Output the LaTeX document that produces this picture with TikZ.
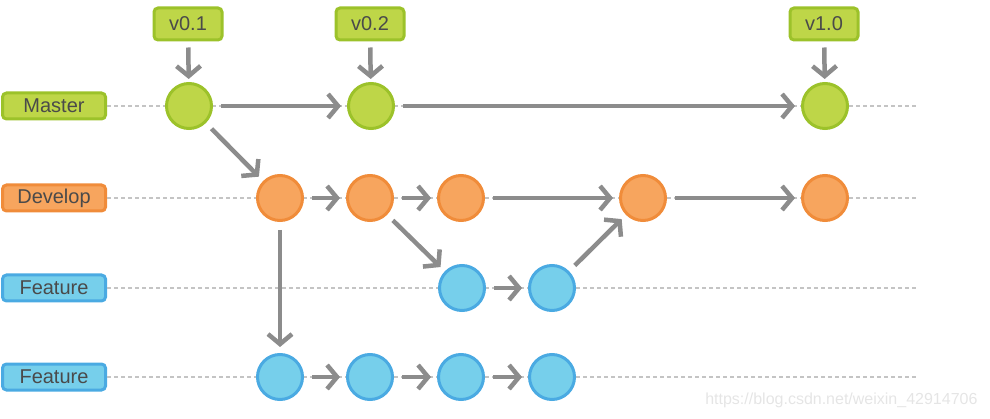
\documentclass[tikz,border=0pt]{standalone}
\usepackage{fontspec}
\setmainfont{Liberation Sans}
\usetikzlibrary{arrows.meta}
\definecolor{gfill}{HTML}{BED648}
\definecolor{gdraw}{HTML}{9CC22A}
\definecolor{ofill}{HTML}{F7A55E}
\definecolor{odraw}{HTML}{F08C3A}
\definecolor{bfill}{HTML}{76CFEB}
\definecolor{bdraw}{HTML}{4AAAE2}
\definecolor{arr}{HTML}{8C8C8C}
\definecolor{txt}{HTML}{4A4A4A}
\definecolor{dashc}{HTML}{C4C4C4}
\tikzset{
  commit/.style={circle, minimum size=45pt, inner sep=0pt, line width=3pt},
  gc/.style={commit, fill=gfill, draw=gdraw},
  oc/.style={commit, fill=ofill, draw=odraw},
  bc/.style={commit, fill=bfill, draw=bdraw},
  lab/.style={rounded corners=4pt, line width=3pt, minimum width=103pt, minimum height=26pt, inner sep=0pt, text=txt, font=\fontsize{20}{20}\selectfont},
  glab/.style={lab, fill=gfill, draw=gdraw},
  olab/.style={lab, fill=ofill, draw=odraw},
  blab/.style={lab, fill=bfill, draw=bdraw},
  tag/.style={lab, fill=gfill, draw=gdraw, minimum width=68pt, minimum height=32pt},
  flow/.style={draw=arr, line width=4.5pt, -{Straight Barb[length=10pt,width=24pt]}, shorten <=8pt, shorten >=6pt},
  guide/.style={draw=dashc, line width=1.5pt, dash pattern=on 4pt off 3pt},
}
\begin{document}
\begin{tikzpicture}[x=1pt, y=-1pt]
\useasboundingbox (0,0) rectangle (990,419);
% labels
\node[glab] (lm) at (54,106) {Master};
\node[olab] (ld) at (54,198) {Develop};
\node[blab] (lf1) at (54,288) {Feature};
\node[blab] (lf2) at (54,377) {Feature};
% guide lines
\coordinate (em) at (917,106);
\coordinate (ed) at (917,198);
\coordinate (ef1) at (917,288);
\coordinate (ef2) at (917,377);
\draw[guide] (lm.east) -- (em);
\draw[guide] (ld.east) -- (ed);
\draw[guide] (lf1.east) -- (ef1);
\draw[guide] (lf2.east) -- (ef2);
% tags
\node[tag] (t1) at (188,24) {v0.1};
\node[tag] (t2) at (370,24) {v0.2};
\node[tag] (t3) at (824,24) {v1.0};
% commits
\node[gc] (m1) at (189,106) {};
\node[gc] (m2) at (371,106) {};
\node[gc] (m3) at (825,106) {};
\node[oc] (d1) at (280,198) {};
\node[oc] (d2) at (370,198) {};
\node[oc] (d3) at (461,198) {};
\node[oc] (d4) at (643,198) {};
\node[oc] (d5) at (825,198) {};
\node[bc] (f1) at (462,288) {};
\node[bc] (f2) at (552,288) {};
\node[bc] (g1) at (280,377) {};
\node[bc] (g2) at (370,377) {};
\node[bc] (g3) at (461,377) {};
\node[bc] (g4) at (552,377) {};
% arrows
\draw[flow, shorten <=6pt, shorten >=3pt] (t1) -- (m1);
\draw[flow, shorten <=6pt, shorten >=3pt] (t2) -- (m2);
\draw[flow, shorten <=6pt, shorten >=3pt] (t3) -- (m3);
\draw[flow] (m1) -- (m2);
\draw[flow] (m2) -- (m3);
\draw[flow] (m1) -- (d1);
\draw[flow] (d1) -- (d2);
\draw[flow] (d2) -- (d3);
\draw[flow] (d3) -- (d4);
\draw[flow] (d4) -- (d5);
\draw[flow] (d2) -- (f1);
\draw[flow] (f1) -- (f2);
\draw[flow] (f2) -- (d4);
\draw[flow] (d1) -- (g1);
\draw[flow] (g1) -- (g2);
\draw[flow] (g2) -- (g3);
\draw[flow] (g3) -- (g4);
% watermark
\node[text=black!10, font=\fontsize{16}{16}\selectfont, anchor=east] (wm) at (981,400) {https://blog.csdn.net/weixin\_42914706};
\end{tikzpicture}
\end{document}
